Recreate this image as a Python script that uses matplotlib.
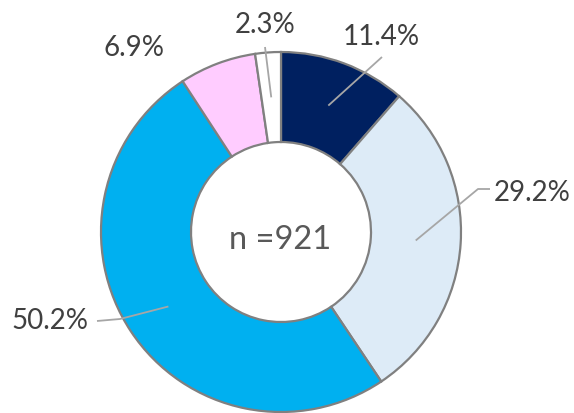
import numpy as np
import matplotlib
matplotlib.use("Agg")
import matplotlib.pyplot as plt

# Data
labels = ["11.4%", "29.2%", "50.2%", "6.9%", "2.3%"]
values = [11.4, 29.2, 50.2, 6.9, 2.3]
colors = ["#002060", "#DDEBF7", "#00B0F0", "#FFCCFF", "#FFFFFF"]
center_text = "n =921"

W, H = 574, 414
fig = plt.figure(figsize=(W / 100, H / 100), dpi=100)
ax = fig.add_axes([0, 0, 1, 1])

cx, cy, R = 281, 414 - 233, 180
wedges, _ = ax.pie(values, colors=colors, startangle=90, counterclock=False,
                   radius=R, center=(cx, cy),
                   wedgeprops=dict(width=R * 0.5, edgecolor="#808080", linewidth=1.6))
ax.set_xlim(0, W)
ax.set_ylim(0, H)
ax.set_aspect("equal")
ax.axis("off")

font = ["Lato", "DejaVu Sans"]
txtcol = "#404040"
linecol = "#A6A6A6"

# label positions (pixel layout) and leader elbow points
label_pos = [(381, 37), (532, 193), (50, 321), (134, 48), (265, 25)]
leader_pts = [[(382, 58)], [(478, 190), (490, 190)], [(120, 320), (97, 322)], None, [(265, 48)]]

for w, lab, pos, pts in zip(wedges, labels, label_pos, leader_pts):
    ang = np.deg2rad((w.theta1 + w.theta2) / 2)
    sx = cx + 0.75 * R * np.cos(ang)
    sy = cy + 0.75 * R * np.sin(ang)
    if pts is not None:
        xs = [sx] + [p[0] for p in pts]
        ys = [sy] + [H - p[1] for p in pts]
        ax.plot(xs, ys, color=linecol, lw=1.3, solid_capstyle="butt", zorder=5)
    ax.text(pos[0], H - pos[1], lab, ha="center", va="center", fontsize=20,
            family=font, color=txtcol, zorder=6)

ax.text(280, H - 240, center_text, ha="center", va="center", fontsize=23.5,
        family=font, color="#595959")

fig.savefig("out.png", dpi=100)
